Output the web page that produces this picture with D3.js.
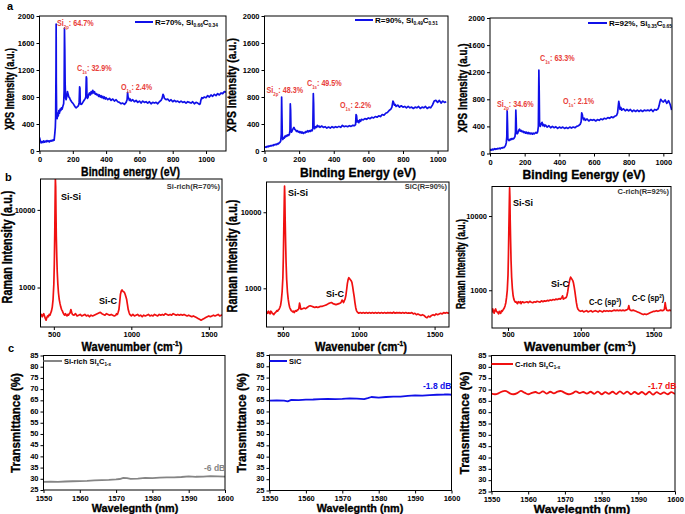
<!DOCTYPE html>
<html><head><meta charset="utf-8">
<script src="https://cdn.jsdelivr.net/npm/d3@7"></script>
<style>
body{margin:0;background:#fff;}
text{font-family:Arial,"Liberation Sans",sans-serif;font-weight:bold;}
</style></head>
<body><svg id="fig" width="685" height="514"></svg>
<script>
// ---------- DATA ----------
// XPS spectra [binding energy (eV), intensity (a.u.)]
const xps70 = [[0,200],[5,150],[10,120],[15,140],[20,125],[25,150],[30,130],[35,145],[40,135],[45,155],[50,140],[55,150],[60,135],[65,155],[70,145],[75,160],[80,150],[85,170],[88,160],[92,260],[95,350],[97,500],[99,1200],[100,1880],[101,1000],[103,520],[106,480],[110,560],[113,520],[116,600],[120,560],[124,620],[128,600],[132,640],[136,620],[140,660],[145,700],[148,900],[150,1820],[152,1500],[154,1000],[157,780],[160,760],[165,820],[168,880],[172,840],[176,800],[180,790],[185,760],[190,740],[195,720],[200,710],[205,690],[210,670],[215,650],[220,640],[225,650],[230,660],[235,680],[238,720],[241,950],[243,930],[245,700],[250,690],[255,700],[260,720],[265,740],[270,760],[275,780],[278,800],[281,1100],[283,1080],[285,820],[288,780],[292,800],[296,840],[300,860],[305,830],[310,880],[315,850],[320,900],[325,860],[330,880],[335,840],[340,850],[345,830],[350,840],[355,810],[360,830],[365,800],[370,820],[375,790],[380,810],[385,780],[390,800],[395,770],[400,790],[410,760],[420,780],[430,750],[440,770],[450,740],[460,760],[470,730],[480,720],[490,700],[500,710],[510,690],[520,720],[526,760],[529,870],[532,800],[536,780],[540,750],[545,770],[550,740],[560,760],[570,730],[580,750],[590,720],[600,740],[610,710],[620,740],[630,720],[640,730],[650,710],[660,730],[670,700],[680,720],[690,710],[700,720],[710,700],[720,730],[730,750],[736,780],[742,840],[746,820],[750,780],[760,760],[770,770],[780,740],[790,760],[800,730],[810,750],[820,730],[830,740],[840,720],[850,740],[860,720],[870,730],[880,710],[890,730],[900,720],[910,710],[920,730],[930,700],[940,720],[950,710],[960,690],[965,700],[970,760],[975,790],[980,780],[990,800],[1000,790],[1010,820],[1020,800],[1030,830],[1040,810],[1050,840],[1060,820],[1070,850],[1080,830],[1090,860],[1100,850],[1110,880],[1120,870]];
const xps90 = [[0,50],[5,60],[10,55],[15,70],[20,60],[25,75],[30,70],[35,80],[40,75],[45,85],[50,80],[55,95],[60,90],[65,100],[70,95],[75,110],[80,105],[85,120],[90,130],[94,150],[97,250],[99,800],[101,500],[103,200],[106,170],[110,200],[114,190],[118,220],[122,210],[126,230],[130,220],[135,240],[140,230],[144,250],[147,300],[149,700],[151,600],[153,300],[156,280],[160,300],[165,330],[170,350],[175,320],[180,310],[185,290],[190,300],[195,280],[200,290],[205,270],[210,285],[215,265],[220,280],[225,260],[230,275],[235,270],[240,290],[245,280],[250,300],[255,285],[260,300],[265,290],[270,310],[275,300],[279,330],[282,850],[284,700],[286,360],[290,330],[295,360],[300,350],[305,380],[310,360],[315,370],[320,350],[330,370],[340,350],[350,360],[360,340],[370,355],[380,340],[390,360],[400,345],[410,360],[420,350],[430,365],[440,350],[450,380],[460,360],[470,370],[480,360],[490,375],[500,365],[510,380],[520,375],[526,390],[529,540],[532,520],[535,430],[540,450],[545,420],[550,460],[555,440],[560,470],[570,460],[580,480],[590,470],[600,490],[610,480],[620,500],[630,490],[640,510],[650,500],[660,520],[670,510],[680,540],[690,530],[700,560],[710,570],[720,600],[730,620],[736,650],[742,740],[746,720],[750,680],[755,690],[760,660],[770,680],[780,650],[790,670],[800,650],[810,660],[820,640],[830,660],[840,640],[850,650],[860,630],[870,650],[880,640],[890,660],[900,630],[910,650],[920,640],[930,660],[940,630],[950,650],[960,640],[970,680],[975,710],[980,740],[990,750],[1000,720],[1010,750],[1020,710],[1030,740],[1040,720],[1050,730]];
const xps92 = [[0,40],[5,60],[10,50],[15,65],[20,55],[25,70],[30,60],[35,70],[40,65],[45,75],[50,70],[55,80],[60,70],[65,85],[70,80],[75,90],[80,85],[85,100],[90,120],[94,160],[97,250],[99,630],[101,450],[103,220],[106,200],[110,190],[114,210],[118,200],[122,220],[126,210],[130,220],[135,215],[140,230],[144,250],[147,320],[149,640],[151,500],[153,300],[156,290],[160,300],[165,340],[170,360],[175,330],[180,340],[185,320],[190,330],[195,310],[200,320],[205,300],[210,315],[215,295],[220,310],[225,290],[230,305],[235,290],[240,300],[245,285],[250,300],[255,290],[260,300],[265,310],[270,300],[275,320],[279,400],[282,1230],[284,900],[286,420],[290,400],[295,440],[300,460],[305,410],[310,430],[315,400],[320,420],[330,390],[340,410],[350,380],[360,400],[370,380],[380,395],[390,370],[400,390],[410,375],[420,390],[430,370],[440,385],[450,370],[460,390],[470,375],[480,390],[490,380],[500,400],[510,410],[520,430],[526,470],[529,600],[532,580],[535,540],[540,500],[545,520],[550,490],[560,510],[570,480],[580,500],[590,490],[600,500],[610,480],[620,500],[630,490],[640,510],[650,500],[660,520],[670,510],[680,530],[690,520],[700,540],[710,530],[720,550],[730,560],[736,600],[740,700],[743,770],[746,720],[750,650],[755,680],[760,640],[770,660],[780,630],[790,650],[800,630],[810,650],[820,620],[830,640],[840,620],[850,640],[860,620],[870,640],[880,620],[890,640],[900,630],[910,640],[920,630],[930,650],[940,620],[950,650],[960,640],[970,660],[975,700],[980,760],[985,800],[990,780],[1000,760],[1010,790],[1020,740],[1030,780],[1040,720],[1048,640]];
// Raman spectra [wavenumber (cm-1), intensity (a.u.)]
const raman70 = [[414,430],[420,450],[425,420],[430,440],[435,460],[440,430],[445,400],[450,380],[455,410],[460,430],[465,420],[470,450],[475,440],[480,470],[485,500],[490,560],[495,700],[500,1100],[503,2000],[506,5000],[508,12000],[510,25000],[512,20000],[514,9000],[516,4500],[519,2500],[522,1600],[526,1100],[530,850],[535,700],[540,620],[545,560],[550,520],[555,500],[560,470],[565,450],[570,440],[575,460],[580,440],[585,430],[590,450],[595,440],[600,460],[605,470],[610,520],[615,480],[620,450],[630,440],[640,460],[650,430],[660,440],[670,450],[680,430],[690,440],[700,450],[710,430],[720,440],[730,420],[740,440],[750,430],[760,440],[770,450],[780,460],[790,470],[800,480],[810,460],[820,450],[830,440],[840,460],[850,450],[860,440],[870,450],[880,440],[890,430],[900,440],[905,460],[910,450],[915,480],[920,520],[925,650],[930,820],[935,900],[940,930],[945,900],[950,880],[955,870],[960,820],[965,760],[970,700],[975,600],[980,520],[985,480],[990,450],[995,440],[1000,430],[1010,450],[1020,430],[1030,440],[1040,450],[1050,430],[1060,440],[1070,420],[1080,440],[1090,430],[1100,440],[1110,450],[1120,430],[1130,440],[1140,430],[1150,450],[1160,440],[1170,430],[1180,450],[1190,440],[1200,450],[1210,440],[1220,460],[1230,450],[1240,440],[1250,450],[1260,440],[1270,460],[1280,450],[1290,440],[1300,450],[1310,440],[1320,450],[1330,440],[1340,450],[1350,440],[1360,430],[1370,440],[1380,430],[1390,420],[1400,430],[1410,420],[1420,410],[1430,400],[1440,390],[1450,380],[1460,390],[1470,400],[1480,410],[1490,420],[1500,430],[1510,420],[1520,430],[1530,440],[1540,430],[1550,440],[1560,450],[1570,430],[1580,440],[1590,440]];
const raman90 = [[390,470],[395,490],[400,470],[405,500],[410,480],[415,460],[420,500],[425,490],[430,470],[435,460],[440,450],[445,470],[450,480],[455,490],[460,510],[465,500],[470,520],[475,530],[480,560],[485,600],[490,700],[495,900],[500,1400],[503,2500],[506,6000],[509,14000],[511,22000],[513,16000],[515,8000],[518,4000],[521,2200],[525,1300],[530,900],[535,720],[540,620],[545,560],[550,530],[555,510],[560,500],[565,490],[570,500],[575,480],[580,500],[585,510],[590,500],[595,520],[600,520],[605,540],[610,640],[613,600],[617,540],[620,530],[630,540],[640,550],[650,540],[660,560],[670,580],[680,590],[690,580],[700,570],[710,560],[720,570],[730,560],[740,570],[750,580],[760,580],[770,590],[780,600],[790,610],[800,630],[810,640],[820,650],[830,630],[840,620],[850,610],[860,620],[870,630],[880,640],[885,660],[890,700],[895,680],[900,650],[905,690],[910,720],[915,800],[920,950],[925,1150],[930,1300],[935,1380],[940,1340],[945,1300],[950,1260],[955,1200],[960,1050],[965,900],[970,780],[975,650],[980,560],[985,510],[990,490],[1000,470],[1010,480],[1020,470],[1030,480],[1040,470],[1050,480],[1060,470],[1070,480],[1080,470],[1090,480],[1100,470],[1110,480],[1120,470],[1130,480],[1140,470],[1150,480],[1160,470],[1170,480],[1180,470],[1190,480],[1200,475],[1210,480],[1220,470],[1230,485],[1240,470],[1250,480],[1260,475],[1270,480],[1280,470],[1290,480],[1300,470],[1310,480],[1320,470],[1330,475],[1340,470],[1350,480],[1360,460],[1370,470],[1380,450],[1390,460],[1400,450],[1410,440],[1420,450],[1430,440],[1440,420],[1450,410],[1460,430],[1470,420],[1480,440],[1490,450],[1500,440],[1510,460],[1520,450],[1530,460],[1540,470],[1550,460],[1560,480],[1570,470],[1580,480],[1590,470],[1595,480]];
const raman92 = [[390,500],[395,560],[400,520],[405,490],[410,540],[415,560],[420,520],[425,510],[430,500],[435,480],[440,520],[445,500],[450,490],[455,530],[460,520],[465,540],[470,560],[475,580],[480,620],[485,680],[490,800],[495,1000],[500,1600],[503,3000],[506,7000],[509,15000],[511,24000],[513,18000],[515,9000],[518,4500],[521,2500],[525,1500],[530,1050],[535,850],[540,760],[545,720],[550,690],[555,700],[560,680],[565,660],[570,700],[575,690],[580,680],[585,700],[590,660],[595,690],[600,700],[610,680],[620,690],[630,700],[640,680],[650,710],[660,690],[670,680],[680,700],[690,690],[700,710],[710,700],[720,690],[730,720],[740,700],[750,720],[760,710],[770,730],[780,720],[790,740],[800,730],[810,750],[820,740],[830,760],[840,750],[850,770],[860,760],[870,800],[875,840],[880,760],[890,780],[900,800],[905,850],[910,950],[915,1100],[920,1250],[925,1400],[930,1500],[935,1450],[940,1400],[945,1350],[950,1250],[955,1100],[960,950],[965,800],[970,680],[975,600],[980,560],[990,530],[1000,520],[1010,530],[1020,510],[1030,520],[1040,530],[1050,510],[1060,520],[1070,530],[1080,510],[1090,520],[1100,530],[1110,520],[1120,510],[1130,530],[1140,520],[1150,510],[1160,530],[1170,520],[1180,530],[1190,520],[1200,530],[1210,520],[1220,530],[1230,540],[1240,530],[1250,540],[1260,530],[1270,540],[1280,530],[1290,540],[1300,530],[1310,540],[1320,550],[1325,560],[1330,620],[1335,560],[1340,540],[1350,530],[1360,540],[1370,530],[1380,520],[1390,510],[1400,500],[1410,490],[1420,480],[1430,470],[1440,480],[1450,470],[1460,480],[1470,490],[1480,500],[1490,510],[1500,520],[1510,520],[1520,530],[1530,520],[1540,530],[1550,540],[1560,530],[1570,540],[1575,560],[1580,680],[1585,580],[1590,540],[1600,530],[1610,540],[1620,530]];
// Transmittance [wavelength (nm), %]
const transSiRich = [[1550,28.6],[1552,28.7],[1554,28.6],[1556,28.8],[1558,28.9],[1560,29.0],[1562,29.1],[1564,29.3],[1566,29.4],[1568,29.5],[1570,29.7],[1571,29.9],[1572,30.4],[1573,30.3],[1574,30.0],[1576,30.1],[1578,30.4],[1580,30.3],[1582,30.5],[1584,30.6],[1586,30.6],[1588,30.8],[1590,31.1],[1592,30.9],[1594,31.0],[1596,31.2],[1598,31.1],[1600,31.0]];
const transSiC = [[1550,64.8],[1552,64.9],[1554,64.8],[1555,64.5],[1556,65.1],[1558,65.0],[1560,65.2],[1562,65.3],[1564,65.5],[1566,65.6],[1568,65.5],[1570,65.6],[1572,65.8],[1574,65.7],[1576,65.5],[1577,65.9],[1578,66.4],[1580,66.1],[1582,66.4],[1584,66.6],[1586,66.6],[1588,66.9],[1590,67.1],[1592,67.0],[1594,67.2],[1596,67.4],[1598,67.5],[1599,67.6],[1600,67.4]];
const transCRich = [[1550,68.2],[1551,67.9],[1552,68.4],[1553,69.2],[1554,69.3],[1555,68.3],[1556,67.9],[1557,68.4],[1558,69.4],[1559,68.6],[1560,67.9],[1561,68.5],[1562,68.9],[1563,68.3],[1564,69.2],[1565,68.2],[1566,69.0],[1567,68.3],[1568,69.1],[1569,69.3],[1570,68.5],[1571,67.9],[1572,68.3],[1573,69.2],[1574,68.4],[1575,68.9],[1576,68.2],[1577,69.0],[1578,68.1],[1579,69.1],[1580,67.9],[1581,68.8],[1582,68.1],[1583,69.0],[1584,68.0],[1585,69.2],[1586,68.1],[1587,69.1],[1588,67.9],[1589,68.9],[1590,68.0],[1591,68.9],[1592,67.8],[1593,69.0],[1594,67.7],[1595,68.8],[1596,68.0],[1597,68.7],[1598,67.9],[1599,68.8],[1600,68.0]];
// tick labels
const xpsYTicks = [0,400,800,1200,1600,2000];
const xpsXTicks = [0,200,400,600,800,1000];
const ramanXTicks = [500,1000,1500];
const ramanYTicks = [1000,10000];
const transYTicks = [25,30,35,40,45,50,55,60,65,70,75,80,85];
const transXTicks = [1550,1560,1570,1580,1590,1600];

// ---------- DRAWING ----------
const svg = d3.select('#fig');
const BLUE = '#1010e8', RED = '#f01010', GRAY = '#858585', ANN = '#e8403a';

function rich(sel, parts, size){
  let off = 0;
  parts.forEach(p=>{
    const ts = sel.append('tspan').text(p.t);
    let target = 0;
    if(p.sub){ target = size*0.3; ts.attr('font-size', size*0.6); }
    else if(p.sup){ target = -size*0.4; ts.attr('font-size', size*0.6); }
    ts.attr('dy', target-off); off = target;
  });
  return sel;
}
function fitText(parts, size, cx, cy, width, rotate, color){
  const t = svg.append('text').attr('font-size', size).attr('text-anchor','middle').attr('fill', color||'#000')
    .attr('stroke', color||'#000').attr('stroke-width', 0.35);
  rich(t, parts, size);
  const w = t.node().getBBox().width;
  const s = width / w;
  t.attr('transform', `translate(${cx},${cy})` + (rotate?' rotate(-90)':'') + ` scale(${s},1)`);
  return t;
}
function label(parts, size, x, y, color, anchor, sx){
  const t = svg.append('text').attr('font-size',size)
    .attr('fill',color||'#000').attr('text-anchor',anchor||'start')
    .attr('transform', `translate(${x},${y}) scale(${sx||1},1)`);
  rich(t, parts, size);
  return t;
}

function panel(c){
  const x = d3.scaleLinear().domain(c.xd).range([c.l, c.r]);
  const y = (c.log ? d3.scaleLog() : d3.scaleLinear()).domain(c.yd).range([c.b, c.t]);
  const g = svg.append('g');
  const clipId = 'clip' + Math.round(c.l) + '_' + Math.round(c.t);
  g.append('clipPath').attr('id', clipId).append('rect')
    .attr('x', c.l).attr('y', c.t).attr('width', c.r - c.l).attr('height', c.b - c.t);
  const line = d3.line().x(d=>x(d[0])).y(d=>y(d[1]));
  if(c.curve) line.curve(c.curve);
  g.append('path').datum(c.data).attr('d', line).attr('fill','none')
    .attr('stroke', c.color).attr('stroke-width', c.sw||1.5).attr('stroke-linejoin','round')
    .attr('clip-path', `url(#${clipId})`);
  g.append('rect').attr('x',c.l).attr('y',c.t).attr('width',c.r-c.l).attr('height',c.b-c.t)
    .attr('fill','none').attr('stroke','#000').attr('stroke-width',1);
  const ax = g.append('g').attr('transform',`translate(0,${c.b})`)
    .call(d3.axisBottom(x).tickValues(c.xt).tickSize(3).tickPadding(c.xpad||3).tickFormat(d3.format('d')));
  const ay = g.append('g').attr('transform',`translate(${c.l},0)`)
    .call(d3.axisLeft(y).tickValues(c.yt).tickSize(3).tickPadding(2).tickFormat(d3.format('d')));
  [ax, ay].forEach(a=>{
    a.select('.domain').remove();
    a.selectAll('text').attr('font-size', c.tfs).attr('font-family','Arial,"Liberation Sans",sans-serif').attr('font-weight','bold');
  });
  if(c.ydy) ay.selectAll('text').attr('dy', c.ydy);
  return {x, y};
}

// Row a: XPS
const a1 = {l:39.5, r:226, t:16, b:151, xd:[0,1120], yd:[0,2000], xt:xpsXTicks, yt:xpsYTicks, data:xps70, color:BLUE, tfs:7.5, sw:1.7};
const a2 = {l:264.5, r:448, t:16, b:151, xd:[0,1060], yd:[0,2000], xt:xpsXTicks, yt:xpsYTicks, data:xps90, color:BLUE, tfs:7.5, sw:1.7};
const a3 = {l:490, r:672, t:18, b:153.5, xd:[0,1050], yd:[0,2000], xt:xpsXTicks, yt:xpsYTicks, data:xps92, color:BLUE, tfs:7.5, sw:1.7};
[a1,a2,a3].forEach(panel);

// Row b: Raman
const b1 = {l:40.5, r:222, t:179, b:327, xd:[414,1585], yd:[310,25000], log:true, xt:ramanXTicks, yt:ramanYTicks, data:raman70, color:RED, tfs:7.5, sw:1.7, xpad:1.5};
const b2 = {l:266.5, r:449, t:182, b:327, xd:[392,1595], yd:[310,25000], log:true, xt:ramanXTicks, yt:ramanYTicks, data:raman90, color:RED, tfs:7.5, sw:1.7, xpad:1.5};
const b3 = {l:492, r:671, t:186.5, b:328, xd:[390,1620], yd:[310,25000], log:true, xt:ramanXTicks, yt:ramanYTicks, data:raman92, color:RED, tfs:7.5, sw:1.7, xpad:1};
[b1,b2,b3].forEach(panel);

// Row c: transmittance
const c1 = {l:43.5, r:225, t:355.5, b:490, xd:[1550,1600], yd:[25,85], xt:transXTicks, yt:transYTicks, data:transSiRich, color:GRAY, tfs:7.5, sw:1.8, xpad:2.5, ydy:'0.22em'};
const c2 = {l:269.5, r:451.5, t:355, b:490.5, xd:[1550,1600], yd:[25,85], xt:transXTicks, yt:transYTicks, data:transSiC, color:BLUE, tfs:7.5, sw:1.8, xpad:2.5, ydy:'0.22em'};
const c3 = {l:491.5, r:675, t:355.5, b:491.5, xd:[1550,1600], yd:[25,85], xt:transXTicks, yt:transYTicks, data:transCRich, color:RED, tfs:7.5, sw:1.8, xpad:2, ydy:'0.22em', curve:d3.curveCardinal};
[c1,c2,c3].forEach(panel);

// panel letters
label([{t:'a'}], 11, 7, 10);
label([{t:'b'}], 11, 5, 181);
label([{t:'c'}], 11, 8, 352);

// axis titles row a
fitText([{t:'Binding energy (eV)'}], 12.5, 130.5, 176, 99);
fitText([{t:'Binding Energy (eV)'}], 13.5, 358, 177, 116);
fitText([{t:'Binding Eenergy (eV)'}], 13.5, 584, 179, 123);
fitText([{t:'XPS Intensity (a.u.)'}], 13, 14, 89, 82, true);
fitText([{t:'XPS Intensity (a.u.)'}], 13, 236, 85, 94, true);
fitText([{t:'XPS Intensity (a.u.)'}], 13, 467, 88, 89, true);

// row b titles
fitText([{t:'Wavenumber (cm'},{t:'-1',sup:true},{t:')'}], 12, 132, 350.5, 101);
fitText([{t:'Wavenuber (cm'},{t:'-1',sup:true},{t:')'}], 12, 361, 350.5, 92);
fitText([{t:'Wavenumber (cm'},{t:'-1',sup:true},{t:')'}], 12, 580, 351, 112);
fitText([{t:'Raman Intensity (a.u.)'}], 14, 12, 247, 113, true);
fitText([{t:'Raman Intensity (a.u.)'}], 14, 237, 256, 113, true);
fitText([{t:'Raman Intensity (a.u.)'}], 13, 465, 264, 90, true);

// row c titles
fitText([{t:'Wavelegnth (nm)'}], 11, 135, 512, 87);
fitText([{t:'Wavelegnth (nm)'}], 11, 360, 512, 87);
fitText([{t:'Wavelegnth (nm)'}], 11, 582, 512.5, 97);
fitText([{t:'Transmittance (%)'}], 13, 20, 423, 100, true);
fitText([{t:'Transmittance (%)'}], 13, 246, 423, 100, true);
fitText([{t:'Transmittance (%)'}], 13, 469, 423, 103, true);

// XPS legends
function legLine(x1,x2,y,color,w){ svg.append('line').attr('x1',x1).attr('x2',x2).attr('y1',y).attr('y2',y).attr('stroke',color).attr('stroke-width',w||2); }
legLine(135,153,22,BLUE); label([{t:'R=70%, Si'},{t:'0.66',sub:true},{t:'C'},{t:'0.34',sub:true}], 8, 155, 25);
legLine(355,373,20,BLUE); label([{t:'R=90%, Si'},{t:'0.49',sub:true},{t:'C'},{t:'0.51',sub:true}], 8, 375, 23);
legLine(588,607,23,BLUE); label([{t:'R=92%, Si'},{t:'0.35',sub:true},{t:'C'},{t:'0.65',sub:true}], 8, 609, 26);

// XPS annotations
const AS = 0.8;
label([{t:'Si'},{t:'2p',sub:true},{t:': 64.7%'}], 9, 57, 26, ANN, 'start', AS);
label([{t:'C'},{t:'1s',sub:true},{t:': 32.9%'}], 9, 77, 71, ANN, 'start', AS);
label([{t:'O'},{t:'1s',sub:true},{t:': 2.4%'}], 9, 121, 90, ANN, 'start', AS);
label([{t:'Si'},{t:'2p',sub:true},{t:': 48.3%'}], 9, 266.5, 93, ANN, 'start', AS);
label([{t:'C'},{t:'1s',sub:true},{t:': 49.5%'}], 9, 307, 86, ANN, 'start', AS);
label([{t:'O'},{t:'1s',sub:true},{t:': 2.2%'}], 9, 340, 108, ANN, 'start', AS);
label([{t:'Si'},{t:'2p',sub:true},{t:': 34.6%'}], 9, 497, 107, ANN, 'start', AS);
label([{t:'C'},{t:'1s',sub:true},{t:': 63.3%'}], 9, 540, 61, ANN, 'start', AS);
label([{t:'O'},{t:'1s',sub:true},{t:': 2.1%'}], 9, 563, 104, ANN, 'start', AS);

// Raman annotations
label([{t:'Si-Si'}], 9, 61, 200);
label([{t:'Si-C'}], 9, 99, 304);
label([{t:'Si-rich(R=70%)'}], 7.5, 220, 189, '#333', 'end');
label([{t:'Si-Si'}], 9, 288, 196);
label([{t:'Si-C'}], 9, 326, 297);
label([{t:'SiC(R=90%)'}], 7.5, 447, 189, '#333', 'end');
label([{t:'Si-Si'}], 9, 513, 206);
label([{t:'Si-C'}], 9, 551, 287);
label([{t:'C-C (sp'},{t:'3',sup:true},{t:')'}], 8.5, 589, 305, '#000', 'start', 0.9);
label([{t:'C-C (sp'},{t:'2',sup:true},{t:')'}], 8.5, 632, 301, '#000', 'start', 0.9);
label([{t:'C-rich(R=92%)'}], 7.5, 669, 194, '#333', 'end');

// Transmittance legends and labels
legLine(43.5,62,361,GRAY); label([{t:'Si-rich  Si'},{t:'x',sub:true},{t:'C'},{t:'1-x',sub:true}], 7.5, 64, 364);
legLine(269.5,287,361,BLUE); label([{t:'SiC'}], 7.5, 289, 364);
legLine(491.5,513,364,RED); label([{t:'C-rich  Si'},{t:'x',sub:true},{t:'C'},{t:'1-x',sub:true}], 7.5, 515, 367);
label([{t:'-6 dB'}], 8.5, 204, 471, GRAY);
label([{t:'-1.8 dB'}], 8.5, 423, 389, BLUE);
label([{t:'-1.7 dB'}], 8.5, 648, 389, RED);
</script></body></html>
